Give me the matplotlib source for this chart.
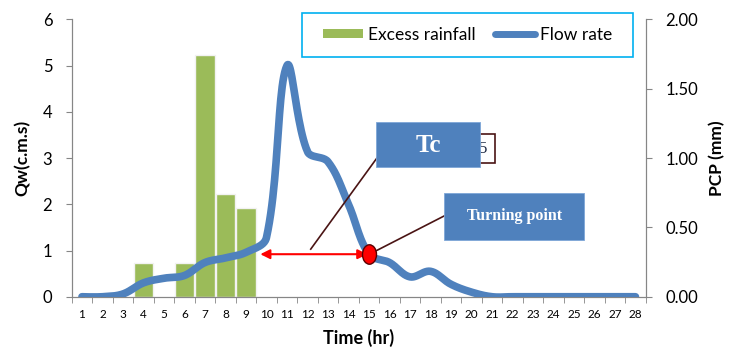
import numpy as np
import matplotlib
matplotlib.use('Agg')
import matplotlib.pyplot as plt
from matplotlib.patches import Rectangle, Patch
from matplotlib.lines import Line2D
from matplotlib.path import Path
from matplotlib.transforms import Affine2D

plt.rcParams['font.family'] = ['Lato', 'DejaVu Sans']

# Data
hours = list(range(1, 29))
flow_rate = [0.0, 0.0, 0.06, 0.30, 0.40, 0.46, 0.74, 0.84, 0.96, 1.28,
             5.0, 3.14, 2.92, 2.0, 0.92, 0.74, 0.43, 0.55, 0.27, 0.10,
             0.0, 0.0, 0.0, 0.0, 0.0, 0.0, 0.0, 0.0]
rain_hours = [4, 6, 7, 8, 9]
excess_rain = [0.24, 0.24, 1.74, 0.74, 0.64]   # mm (right axis)

turning_hour = 15
tc_start = 9.7

blue = '#4F81BD'
green = '#9BBB59'
grey = '#868686'
maroon = '#4A1414'


def smooth_line(ax, x, y, tension=0.36, n=24):
    # bezier smoothing done in screen space (tangents scaled by segment length),
    # similar to a spreadsheet "smoothed line"
    pts = ax.transData.transform(np.column_stack([x, y]))
    m = len(pts)
    before, after = pts.copy(), pts.copy()
    for i in range(1, m - 1):
        d01 = np.hypot(*(pts[i] - pts[i - 1]))
        d12 = np.hypot(*(pts[i + 1] - pts[i]))
        tang = pts[i + 1] - pts[i - 1]
        tot = d01 + d12 if d01 + d12 > 0 else 1
        before[i] = pts[i] - tension * d01 / tot * tang
        after[i] = pts[i] + tension * d12 / tot * tang
    t = np.linspace(0, 1, n, endpoint=False)[:, None]
    out = []
    for i in range(m - 1):
        p1, c1, c2, p2 = pts[i], after[i], before[i + 1], pts[i + 1]
        out.append((1 - t) ** 3 * p1 + 3 * (1 - t) ** 2 * t * c1
                   + 3 * (1 - t) * t ** 2 * c2 + t ** 3 * p2)
    out.append(pts[-1:])
    return ax.transData.inverted().transform(np.vstack(out))


fig = plt.figure(figsize=(7.34, 3.52), dpi=100)
ax = fig.add_axes([0.0977, 0.157, 0.782, 0.788])
ax2 = ax.twinx()
ax.set_zorder(ax2.get_zorder() + 1)
ax.patch.set_visible(False)

# bars on the PCP axis
ax2.bar(rain_hours, excess_rain, width=0.94, color=green,
        edgecolor='#F2F2F2', linewidth=1.0)
ax2.set_ylim(0, 2)
ax2.set_yticks([0, 0.5, 1.0, 1.5, 2.0])
ax2.set_yticklabels([f'{v:.2f}' for v in [0, 0.5, 1.0, 1.5, 2.0]], fontsize=12)
ax2.set_ylabel('PCP (mm)', fontsize=12.5, fontweight='bold', labelpad=8)

ax.set_ylim(0, 6)
ax.set_xlim(0.5, 28.5)
ax.set_yticks(range(0, 7))
ax.tick_params(axis='y', labelsize=12, direction='out', length=4, pad=10, color=grey)
ax2.tick_params(axis='y', direction='out', length=4, pad=10, color=grey)
ax.set_ylabel('Qw(c.m.s)', fontsize=12.5, fontweight='bold', labelpad=9)

# flow hydrograph
curve = smooth_line(ax, hours, flow_rate)
ax.plot(curve[:, 0], curve[:, 1], color=blue, lw=5.5, solid_capstyle='round', zorder=3)

ax.set_xticks(hours)
ax.set_xticklabels([str(h) for h in hours], fontsize=8.5)
ax.set_xticks(np.arange(0.5, 29, 1), minor=True)
ax.tick_params(axis='x', which='major', length=0, pad=9)
ax.tick_params(axis='x', which='minor', length=4, color=grey, direction='out')
ax.set_xlabel('Time (hr)', fontsize=13, fontweight='bold', labelpad=6)

for a in (ax, ax2):
    a.spines['top'].set_visible(False)
    for s in ('left', 'right', 'bottom'):
        a.spines[s].set_color(grey)

# Tc arrow and turning point
y_tp = flow_rate[hours.index(turning_hour)]
ax.annotate('', xy=(tc_start, y_tp), xytext=(turning_hour - 0.08, y_tp),
            arrowprops=dict(arrowstyle='<|-|>', color='red', lw=1.5,
                            mutation_scale=14, shrinkA=0, shrinkB=0), zorder=4)
ellipse = Path.unit_circle().transformed(Affine2D().scale(0.72, 1.0))
ax.plot([turning_hour], [y_tp], marker=ellipse, ms=14, color='red',
        mec='#5A0000', mew=1.0, zorder=5)

# callout connectors
ax.plot([12.16, 15.6], [1.03, 3.13], color=maroon, lw=1.2, zorder=4)
ax.plot([turning_hour + 0.2, 18.68], [y_tp + 0.04, 1.75], color=maroon, lw=1.2, zorder=4)

# partially hidden label box behind Tc
ax.add_patch(Rectangle((17.5, 2.89), 3.65, 0.63, facecolor='white',
                       edgecolor=maroon, lw=1.2, zorder=5))
ax.text(20.55, 3.2, '5', fontsize=12, ha='center', va='center', zorder=5,
        family='Liberation Serif', color='#1F2A44')
# Tc box
ax.add_patch(Rectangle((15.33, 2.80), 5.09, 0.97, facecolor=blue,
                       edgecolor='#7EA6D8', lw=0.6, zorder=6))
ax.text(17.88, 3.28, 'Tc', fontsize=18, fontweight='bold', color='white',
        family='Liberation Serif', ha='center', va='center', zorder=7)
# Turning point box
ax.add_patch(Rectangle((18.68, 1.23), 6.81, 1.02, facecolor=blue,
                       edgecolor='#7EA6D8', lw=0.6, zorder=6))
ax.text(22.08, 1.75, 'Turning point', fontsize=11.5, fontweight='bold', color='white',
        family='Liberation Serif', ha='center', va='center', zorder=7)

# legend: frame drawn separately so its padding matches the reference
fig.patches.append(Rectangle((301.7 / 734, 1 - 56.7 / 352), 331.3 / 734, 44 / 352,
                             transform=fig.transFigure, facecolor='white',
                             edgecolor='#00B0F0', lw=1.2, zorder=10))
handles = [Patch(facecolor=green, edgecolor='none'),
           Line2D([], [], color=blue, lw=5, solid_capstyle='round')]
leg = fig.legend(handles, ['Excess rainfall', 'Flow rate'], ncol=2,
                 loc='center left', bbox_to_anchor=(323 / 734, 1 - 34.7 / 352),
                 fontsize=12.5, frameon=False, handlelength=2.3,
                 handleheight=0.45, columnspacing=1.1, handletextpad=0.3,
                 borderpad=0, borderaxespad=0)
leg.set_zorder(11)

fig.savefig('out.png', dpi=100)
